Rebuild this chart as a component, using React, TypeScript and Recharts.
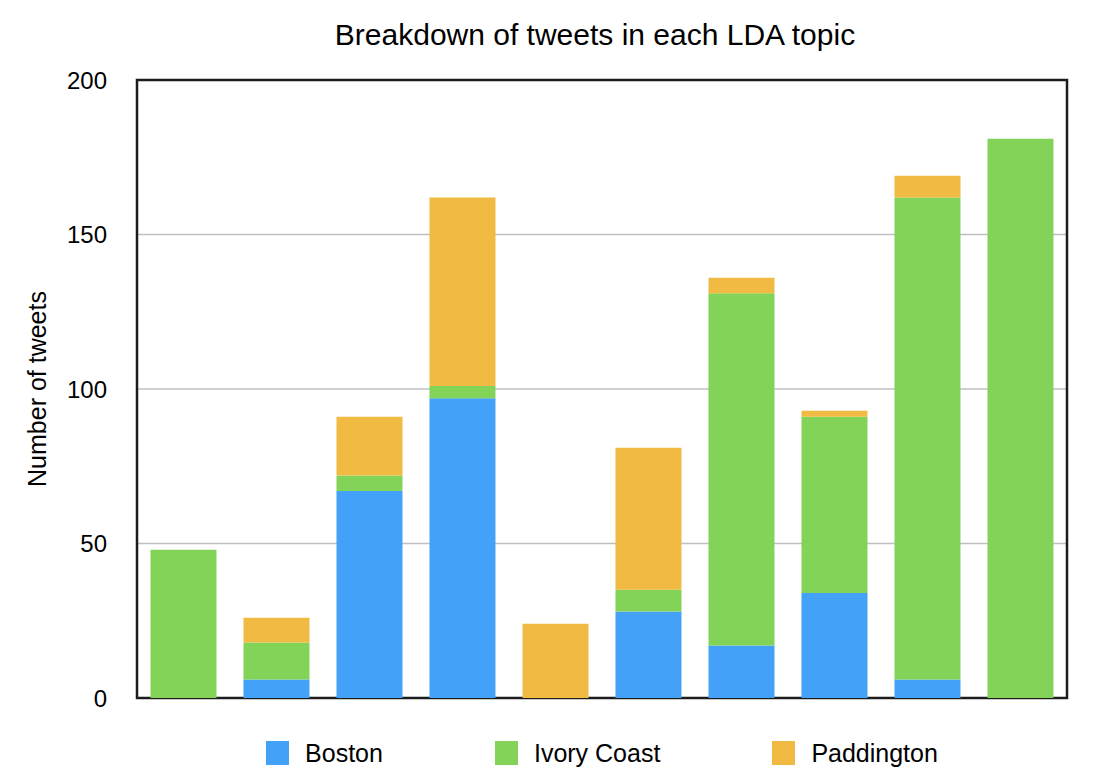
import React from 'react';
import { BarChart, Bar, XAxis, YAxis, CartesianGrid, Legend, Label, ReferenceArea } from 'recharts';

const topics = ['1', '2', '3', '4', '5', '6', '7', '8', '9', '10'];
const boston = [0, 6, 67, 97, 0, 28, 17, 34, 6, 0];
const ivoryCoast = [48, 12, 5, 4, 0, 7, 114, 57, 156, 181];
const paddington = [0, 8, 19, 61, 24, 46, 5, 2, 7, 0];
const yTicks = [0, 50, 100, 150, 200];

const series = [
  { key: 'boston', name: 'Boston', color: '#43A2F7' },
  { key: 'ivoryCoast', name: 'Ivory Coast', color: '#83D358' },
  { key: 'paddington', name: 'Paddington', color: '#F1BA42' },
];

const data = topics.map((topic, i) => ({
  topic,
  boston: boston[i],
  ivoryCoast: ivoryCoast[i],
  paddington: paddington[i],
}));

const FONT = "'Liberation Sans', Arial, Helvetica, sans-serif";
const FRAME = '#1c1c1c';

const renderYLabel = (props: any) => {
  const { x, y, height } = props.viewBox;
  const cx = x + 37;
  const cy = y + height / 2;
  return (
    <text
      x={cx}
      y={cy}
      transform={`rotate(-90 ${cx} ${cy})`}
      textAnchor="middle"
      dominantBaseline="central"
      fontSize={25}
      fontFamily={FONT}
      fill="#000"
    >
      Number of tweets
    </text>
  );
};

const renderLegend = () => (
  <div
    style={{
      display: 'flex',
      justifyContent: 'center',
      alignItems: 'center',
      gap: 112,
      height: 24,
    }}
  >
    {series.map((s) => (
      <div key={s.key} style={{ display: 'flex', alignItems: 'center', gap: 16 }}>
        <span style={{ display: 'inline-block', width: 23, height: 24, background: s.color }} />
        <span style={{ fontSize: 25, lineHeight: '24px', color: '#000' }}>{s.name}</span>
      </div>
    ))}
  </div>
);

export default function App() {
  return (
    <div
      style={{
        position: 'absolute',
        left: 0,
        top: 0,
        width: 1104,
        height: 780,
        background: '#fff',
        fontFamily: FONT,
      }}
    >
      <div
        style={{
          position: 'absolute',
          left: 130,
          width: 930,
          top: 20,
          textAlign: 'center',
          fontSize: 30,
          lineHeight: '30px',
          color: '#000',
        }}
      >
        Breakdown of tweets in each LDA topic
      </div>
      <BarChart
        width={1104}
        height={780}
        data={data}
        margin={{ top: 80, right: 37, bottom: 82, left: 0 }}
        barCategoryGap="14.5%"
      >
        <CartesianGrid vertical={false} stroke="#bfbfbf" strokeWidth={1.6} />
        {series.map((s) => (
          <Bar
            key={s.key}
            dataKey={s.key}
            name={s.name}
            stackId="tweets"
            fill={s.color}
            isAnimationActive={false}
          />
        ))}
        <XAxis dataKey="topic" hide />
        <YAxis
          width={137}
          domain={[0, 200]}
          ticks={yTicks}
          tickLine={false}
          tickSize={0}
          tickMargin={30}
          tick={{ fontSize: 24, fill: '#000', fontFamily: FONT }}
          axisLine={false}
        >
          <Label content={renderYLabel} />
        </YAxis>
        <ReferenceArea
          y1={0}
          y2={200}
          fill="none"
          stroke={FRAME}
          strokeWidth={2.5}
          ifOverflow="visible"
        />
        <Legend
          verticalAlign="middle"
          layout="horizontal"
          content={renderLegend}
          wrapperStyle={{ left: 137, width: 930, top: 741, height: 24 }}
        />
      </BarChart>
    </div>
  );
}
